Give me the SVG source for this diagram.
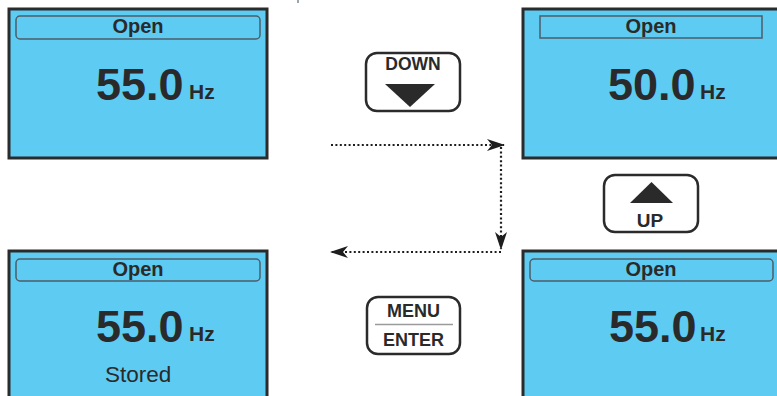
<svg xmlns="http://www.w3.org/2000/svg" width="777" height="396" viewBox="0 0 777 396">
  <style>
    .panel { fill: #5ecbf2; stroke: #2b2b2b; stroke-width: 3; }
    .title { fill: none; stroke: #4d5d68; stroke-width: 1.5; }
    .txt { font-family: "Liberation Sans", Arial, sans-serif; fill: #2a2a2a; }
    .b { font-weight: bold; }
    .big { font-size: 45px; font-weight: bold; }
    .unit { font-size: 21px; font-weight: bold; }
    .key { fill: #ffffff; stroke: #2b2b2b; stroke-width: 2.5; }
    .dot { fill: none; stroke: #1e1e1e; stroke-width: 2.2; stroke-dasharray: 2 2.4; }
  </style>
  <defs>
    <marker id="head" viewBox="0 0 18 12" refX="17" refY="6" markerWidth="18" markerHeight="12" markerUnits="userSpaceOnUse" orient="auto">
      <path d="M0,0 L18,6 L0,12 L5,6 Z" fill="#1e1e1e"/>
    </marker>
  </defs>

  <line x1="298" y1="0" x2="298" y2="3" stroke="#7a8a94" stroke-width="1.5"/>

  <!-- top-left display: 55.0 Hz -->
  <g id="display-start">
    <rect class="panel" x="9" y="9" width="258" height="149"/>
    <rect class="title" x="16" y="16" width="244" height="23" rx="4"/>
    <text class="txt b" x="138" y="33" font-size="20" text-anchor="middle">Open</text>
    <text class="txt big" x="96" y="100">55.0</text>
    <text class="txt unit" x="189" y="99">Hz</text>
  </g>

  <!-- top-right display: 50.0 Hz -->
  <g id="display-down">
    <rect class="panel" x="523" y="9" width="258" height="149"/>
    <rect class="title" x="540" y="16" width="222" height="22"/>
    <text class="txt b" x="651" y="33" font-size="20" text-anchor="middle">Open</text>
    <text class="txt big" x="608" y="100">50.0</text>
    <text class="txt unit" x="700" y="99">Hz</text>
  </g>

  <!-- bottom-right display: 55.0 Hz -->
  <g id="display-up">
    <rect class="panel" x="523" y="251" width="258" height="149"/>
    <rect class="title" x="530" y="259" width="243" height="22" rx="4"/>
    <text class="txt b" x="651" y="276" font-size="20" text-anchor="middle">Open</text>
    <text class="txt big" x="609" y="342">55.0</text>
    <text class="txt unit" x="700" y="341">Hz</text>
  </g>

  <!-- bottom-left display: stored -->
  <g id="display-stored">
    <rect class="panel" x="9" y="251" width="258" height="149"/>
    <rect class="title" x="16" y="259" width="244" height="22" rx="4"/>
    <text class="txt b" x="138" y="276" font-size="20" text-anchor="middle">Open</text>
    <text class="txt big" x="96" y="342">55.0</text>
    <text class="txt unit" x="189" y="341">Hz</text>
    <text class="txt" x="105" y="382" font-size="22.5">Stored</text>
  </g>

  <!-- DOWN key -->
  <g id="key-down">
    <rect class="key" x="366" y="53" width="94" height="58" rx="11"/>
    <text class="txt b" x="413" y="70" font-size="17.5" text-anchor="middle">DOWN</text>
    <path d="M385,84 L435,84 L410,107 Z" fill="#2a2a2a"/>
  </g>

  <!-- UP key -->
  <g id="key-up">
    <rect class="key" x="604" y="175" width="94" height="57" rx="11"/>
    <path d="M630,203 L673,203 L651.5,182 Z" fill="#2a2a2a"/>
    <text class="txt b" x="650" y="227" font-size="19" text-anchor="middle">UP</text>
  </g>

  <!-- MENU / ENTER key -->
  <g id="key-menu">
    <rect class="key" x="367" y="297" width="93" height="57" rx="11"/>
    <text class="txt b" x="413.5" y="317" font-size="18" text-anchor="middle">MENU</text>
    <line x1="375" y1="324.5" x2="453" y2="324.5" stroke="#9a9a9a" stroke-width="1.5"/>
    <text class="txt b" x="413.5" y="346" font-size="18" text-anchor="middle">ENTER</text>
  </g>

  <!-- connectors -->
  <g id="connectors">
    <path class="dot" d="M331,145 L504,145" marker-end="url(#head)"/>
    <path class="dot" d="M501,147 L501,249" marker-end="url(#head)"/>
    <path class="dot" d="M501,252 L331,252" marker-end="url(#head)"/>
  </g>
</svg>
